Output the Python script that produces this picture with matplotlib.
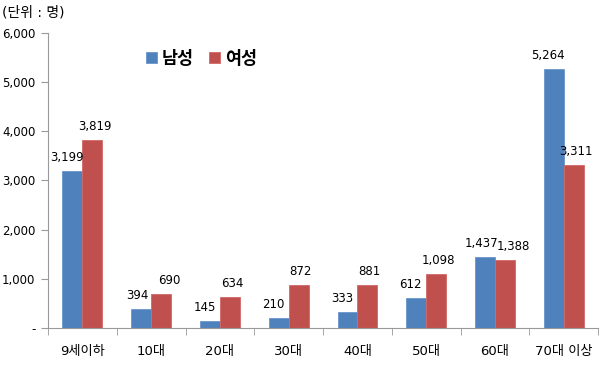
import matplotlib.pyplot as plt
import numpy as np
from matplotlib.ticker import FuncFormatter

# digits from DejaVu (wide, like the original), hangul from Noto CJK
plt.rcParams['font.family'] = ['DejaVu Sans', 'Noto Sans CJK KR']

# Data
categories = ["9세이하", "10대", "20대", "30대", "40대", "50대", "60대", "70대 이상"]
male = [3199, 394, 145, 210, 333, 612, 1437, 5264]
female = [3819, 690, 634, 872, 881, 1098, 1388, 3311]

blue = "#4F81BD"
red = "#C0504D"

fig = plt.figure(figsize=(6, 3.7), dpi=100)
ax = fig.add_axes([0.08, 0.1135, 0.917, 0.7975])

x = np.arange(len(categories))
w = 0.29
b1 = ax.bar(x - w / 2, male, w, color=blue, edgecolor="#6A96CC", linewidth=0.6, label="남성")
b2 = ax.bar(x + w / 2, female, w, color=red, edgecolor="#D06A67", linewidth=0.6, label="여성")

# value labels (nudged sideways like the original; pushed apart where they'd collide)
for i in range(len(categories)):
    m, f = male[i], female[i]
    if abs(m - f) < 300:
        dxm, dxf = -2.5, 6
    else:
        dxm, dxf = -4, 1.5
    ax.annotate(f"{m:,}", (x[i] - w / 2, m), xytext=(dxm, 5), textcoords="offset points",
                ha="center", va="bottom", fontsize=8.5)
    ax.annotate(f"{f:,}", (x[i] + w / 2, f), xytext=(dxf, 5), textcoords="offset points",
                ha="center", va="bottom", fontsize=8.5)

ax.set_xlim(-0.5, len(categories) - 0.5)
ax.set_ylim(0, 6000)
ax.set_yticks(np.arange(0, 6001, 1000))
ax.yaxis.set_major_formatter(FuncFormatter(lambda v, p: "-" if v == 0 else f"{int(v):,}"))
ax.set_xticks(x)
ax.set_xticklabels(categories)
ax.set_xticks(np.arange(-0.5, len(categories)), minor=True)
ax.tick_params(axis="x", which="major", length=0, pad=12, labelsize=9.5)
ax.tick_params(axis="x", which="minor", length=5, color="#999999")
ax.tick_params(axis="y", length=5, color="#999999", labelsize=8.5, pad=4)

for s in ["top", "right"]:
    ax.spines[s].set_visible(False)
ax.spines["left"].set_color("#999999")
ax.spines["bottom"].set_color("#999999")

leg = ax.legend(loc="upper left", bbox_to_anchor=(0.15, 0.995), ncol=2, frameon=False,
                prop={"weight": "bold", "size": 12.5}, handlelength=0.6, handleheight=0.6,
                handletextpad=0.3, columnspacing=0.9)

fig.text(0.003, 0.985, "(단위 : 명)", ha="left", va="top", fontsize=10)

fig.savefig("out.png", dpi=100)
